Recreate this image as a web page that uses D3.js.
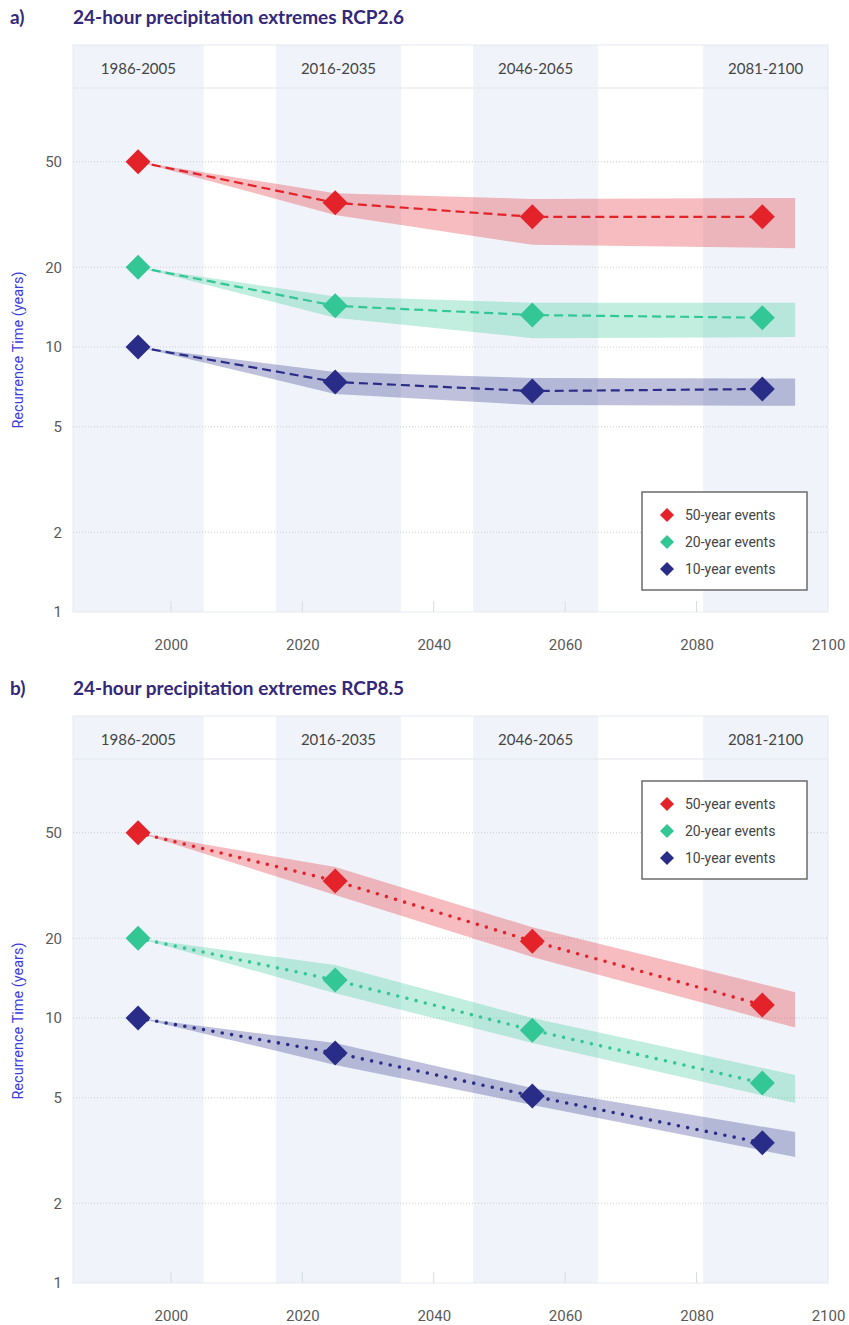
<!DOCTYPE html>
<html>
<head>
<meta charset="utf-8">
<script src="https://cdn.jsdelivr.net/npm/d3@7/dist/d3.min.js"></script>
<style>
  html, body { margin: 0; padding: 0; background: #fff; }
  svg { display: block; }
</style>
</head>
<body>
<svg id="chart" width="849" height="1325"></svg>
<script>
// ---------------- data ----------------
const periodLabels = ["1986-2005", "2016-2035", "2046-2065", "2081-2100"];
const periodStart = [1986, 2016, 2046, 2081];
const periodEnd = [2005, 2035, 2065, 2100];
const pointYears = [1995, 2025, 2055, 2090];
const bandYears = [1995, 2025, 2055, 2095];
const yTickValues = [1, 2, 5, 10, 20, 50];
const xTickValues = [2000, 2020, 2040, 2060, 2080, 2100];
const seriesNames = ["50-year events", "20-year events", "10-year events"];
const seriesColors = ["#e4222a", "#34c796", "#2a2d88"];

// RCP2.6
const rcp26_50 = [50, 35, 31, 31];
const rcp26_50_lo = [50, 31.5, 24.3, 23.6];
const rcp26_50_hi = [50, 38, 36.2, 36.5];
const rcp26_20 = [20, 14.3, 13.2, 12.9];
const rcp26_20_lo = [20, 12.9, 10.8, 10.9];
const rcp26_20_hi = [20, 15.5, 14.7, 14.7];
const rcp26_10 = [10, 7.38, 6.82, 6.94];
const rcp26_10_lo = [10, 6.65, 6.04, 6.0];
const rcp26_10_hi = [10, 8.05, 7.64, 7.6];

// RCP8.5
const rcp85_50 = [50, 32.9, 19.5, 11.2];
const rcp85_50_lo = [50, 29.1, 17, 9.2];
const rcp85_50_hi = [50, 37.1, 22, 12.5];
const rcp85_20 = [20, 13.9, 9.0, 5.68];
const rcp85_20_lo = [20, 12.4, 8.05, 4.78];
const rcp85_20_hi = [20, 15.85, 10, 6.1];
const rcp85_10 = [10, 7.38, 5.08, 3.38];
const rcp85_10_lo = [10, 6.65, 4.7, 2.99];
const rcp85_10_hi = [10, 8.05, 5.44, 3.71];

const panels = [
  {
    letter: "a)", title: "24-hour precipitation extremes RCP2.6", dy: 0,
    lineStyle: "dashed",
    series: [
      { vals: rcp26_50, lo: rcp26_50_lo, hi: rcp26_50_hi },
      { vals: rcp26_20, lo: rcp26_20_lo, hi: rcp26_20_hi },
      { vals: rcp26_10, lo: rcp26_10_lo, hi: rcp26_10_hi }
    ],
    legendTop: 492
  },
  {
    letter: "b)", title: "24-hour precipitation extremes RCP8.5", dy: 671,
    lineStyle: "dotted",
    series: [
      { vals: rcp85_50, lo: rcp85_50_lo, hi: rcp85_50_hi },
      { vals: rcp85_20, lo: rcp85_20_lo, hi: rcp85_20_hi },
      { vals: rcp85_10, lo: rcp85_10_lo, hi: rcp85_10_hi }
    ],
    legendTop: 110
  }
];

// ---------------- layout ----------------
const svg = d3.select("#chart");
const L = 73, R = 828;
const boxTop = 45, headTop = 88, plotBottom = 612;

const x = d3.scaleLinear().domain([1985.1, 2100]).range([L, R]);
const y = d3.scaleLog().domain([1, 100]).range([plotBottom, plotBottom - 530]);

function diamond(r) {
  return `M0,${-r}L${r},0L0,${r}L${-r},0Z`;
}

panels.forEach(p => {
  const g = svg.append("g").attr("transform", `translate(0,${p.dy})`);

  // Title
  g.append("text").attr("x", 10).attr("y", 24)
    .attr("font-family", "Lato, 'Noto Sans', sans-serif").attr("font-weight", 700)
    .attr("font-size", 19).attr("fill", "#33287a").text(p.letter);
  g.append("text").attr("x", 73).attr("y", 24)
    .attr("font-family", "Lato, 'Noto Sans', sans-serif").attr("font-weight", 700)
    .attr("font-size", 19).attr("fill", "#33287a").text(p.title);

  // Background
  g.append("rect").attr("x", L).attr("y", boxTop).attr("width", R - L)
    .attr("height", plotBottom - boxTop).attr("fill", "#ffffff");

  // Period shading
  periodLabels.forEach((lab, i) => {
    const x0 = i === 0 ? L : x(periodStart[i]);
    const x1 = Math.min(x(periodEnd[i]), R);
    g.append("rect").attr("x", x0).attr("y", boxTop).attr("width", x1 - x0)
      .attr("height", plotBottom - boxTop).attr("fill", "#f0f4fa");
    g.append("text").attr("x", (x0 + x1) / 2).attr("y", 74)
      .attr("text-anchor", "middle")
      .attr("font-family", "Lato, 'Noto Sans', sans-serif").attr("font-size", 15)
      .attr("fill", "#444").text(lab);
  });

  // Header divider and box border
  g.append("line").attr("x1", L).attr("x2", R).attr("y1", headTop).attr("y2", headTop)
    .attr("stroke", "#e1e6ee").attr("stroke-width", 1.2);
  g.append("rect").attr("x", L).attr("y", boxTop).attr("width", R - L)
    .attr("height", plotBottom - boxTop).attr("fill", "none")
    .attr("stroke", "#e6eaf0").attr("stroke-width", 1);

  // Grid lines
  g.selectAll(".grid").data(yTickValues.filter(v => v > 1)).enter().append("line")
    .attr("x1", L).attr("x2", R).attr("y1", d => y(d)).attr("y2", d => y(d))
    .attr("stroke", "#c9ccd2").attr("stroke-width", 1).attr("stroke-dasharray", "1,2");

  // Bottom inner ticks
  g.selectAll(".vtick").data(xTickValues.filter(v => v < 2100)).enter().append("line")
    .attr("x1", d => x(d)).attr("x2", d => x(d))
    .attr("y1", plotBottom - 11).attr("y2", plotBottom)
    .attr("stroke", "#d6dbe3").attr("stroke-width", 1);

  // Y axis
  const yAxis = d3.axisLeft(y).tickValues(yTickValues).tickFormat(d3.format("d")).tickSize(0).tickPadding(0);
  const ya = g.append("g").attr("transform", `translate(${62},0)`).call(yAxis);
  ya.select(".domain").remove();
  ya.selectAll("text").attr("font-family", "Roboto, sans-serif").attr("font-size", 15)
    .attr("fill", "#5a5a5a");

  // X axis
  const xAxis = d3.axisBottom(x).tickValues(xTickValues).tickFormat(d3.format("d")).tickSize(0).tickPadding(0);
  const xa = g.append("g").attr("transform", `translate(0,${plotBottom + 27})`).call(xAxis);
  xa.select(".domain").remove();
  xa.selectAll("text").attr("font-family", "Roboto, sans-serif").attr("font-size", 15)
    .attr("fill", "#5a5a5a");

  // Y axis title
  g.append("text")
    .attr("transform", `translate(23,${(headTop + plotBottom) / 2}) rotate(-90)`)
    .attr("text-anchor", "middle")
    .attr("font-family", "Roboto, sans-serif").attr("font-size", 14.5)
    .attr("fill", "#3b3bdc").text("Recurrence Time (years)");

  // Bands
  const area = d3.area().x(d => x(d.yr)).y0(d => y(d.lo)).y1(d => y(d.hi));
  p.series.forEach((s, i) => {
    const bd = bandYears.map((yr, k) => ({ yr, lo: s.lo[k], hi: s.hi[k] }));
    g.append("path").attr("d", area(bd)).attr("fill", seriesColors[i]).attr("fill-opacity", 0.3);
  });

  // Lines
  const line = d3.line().x(d => x(d.yr)).y(d => y(d.v));
  p.series.forEach((s, i) => {
    const ld = pointYears.map((yr, k) => ({ yr, v: s.vals[k] }));
    const path = g.append("path").attr("d", line(ld)).attr("fill", "none")
      .attr("stroke", seriesColors[i]);
    if (p.lineStyle === "dashed") {
      path.attr("stroke-width", 2.2).attr("stroke-dasharray", "9,5");
    } else {
      path.attr("stroke-width", 3.6).attr("stroke-dasharray", "0,9.5").attr("stroke-linecap", "round");
    }
  });

  // Markers
  p.series.forEach((s, i) => {
    g.selectAll(null).data(pointYears.map((yr, k) => ({ yr, v: s.vals[k] }))).enter()
      .append("path").attr("d", diamond(12.5))
      .attr("transform", d => `translate(${x(d.yr)},${y(d.v)})`)
      .attr("fill", seriesColors[i]);
  });

  // Legend
  const lg = g.append("g").attr("transform", `translate(642,${p.legendTop})`);
  lg.append("rect").attr("x", 0).attr("y", 0).attr("width", 165).attr("height", 98)
    .attr("fill", "#fff").attr("stroke", "#6b6b6b").attr("stroke-width", 1.5);
  seriesNames.forEach((nm, i) => {
    const ry = 23 + i * 27;
    lg.append("path").attr("d", diamond(7)).attr("transform", `translate(25,${ry})`)
      .attr("fill", seriesColors[i]);
    lg.append("text").attr("x", 43).attr("y", ry + 5)
      .attr("font-family", "Roboto, sans-serif").attr("font-size", 14)
      .attr("fill", "#444").text(nm);
  });
});
</script>
</body>
</html>
